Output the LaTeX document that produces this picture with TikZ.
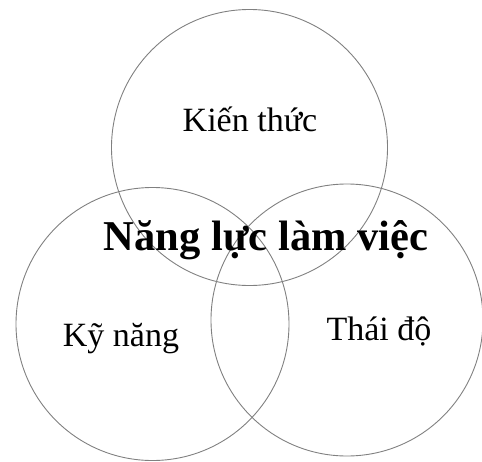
\documentclass[tikz,border=0pt]{standalone}
\usepackage{fontspec}
\setmainfont{Liberation Serif}
\begin{document}
\begin{tikzpicture}[x=1pt,y=-1pt,
  ring/.style={circle,draw=black!50,line width=0.9pt,inner sep=0pt},
  lbl/.style={anchor=base,inner sep=0pt,font=\fontsize{34}{37}\selectfont},
  big/.style={anchor=base,inner sep=0pt,font=\fontsize{42.5}{45}\selectfont\bfseries}]
\useasboundingbox (0,0) rectangle (482,461);
\node[ring,minimum size=276pt] (top) at (249.5,147.5) {};
\node[ring,minimum size=273pt] (left) at (152.5,324) {};
\node[ring,minimum size=272pt] (right) at (347,320) {};
\node[lbl] (kt) at (250,131) {Kiến thức};
\node[big] (nl) at (266,250) {Năng lực làm việc};
\node[lbl] (kn) at (121,346.5) {Kỹ năng};
\node[lbl] (td) at (379,340) {Thái độ};
\end{tikzpicture}
\end{document}
